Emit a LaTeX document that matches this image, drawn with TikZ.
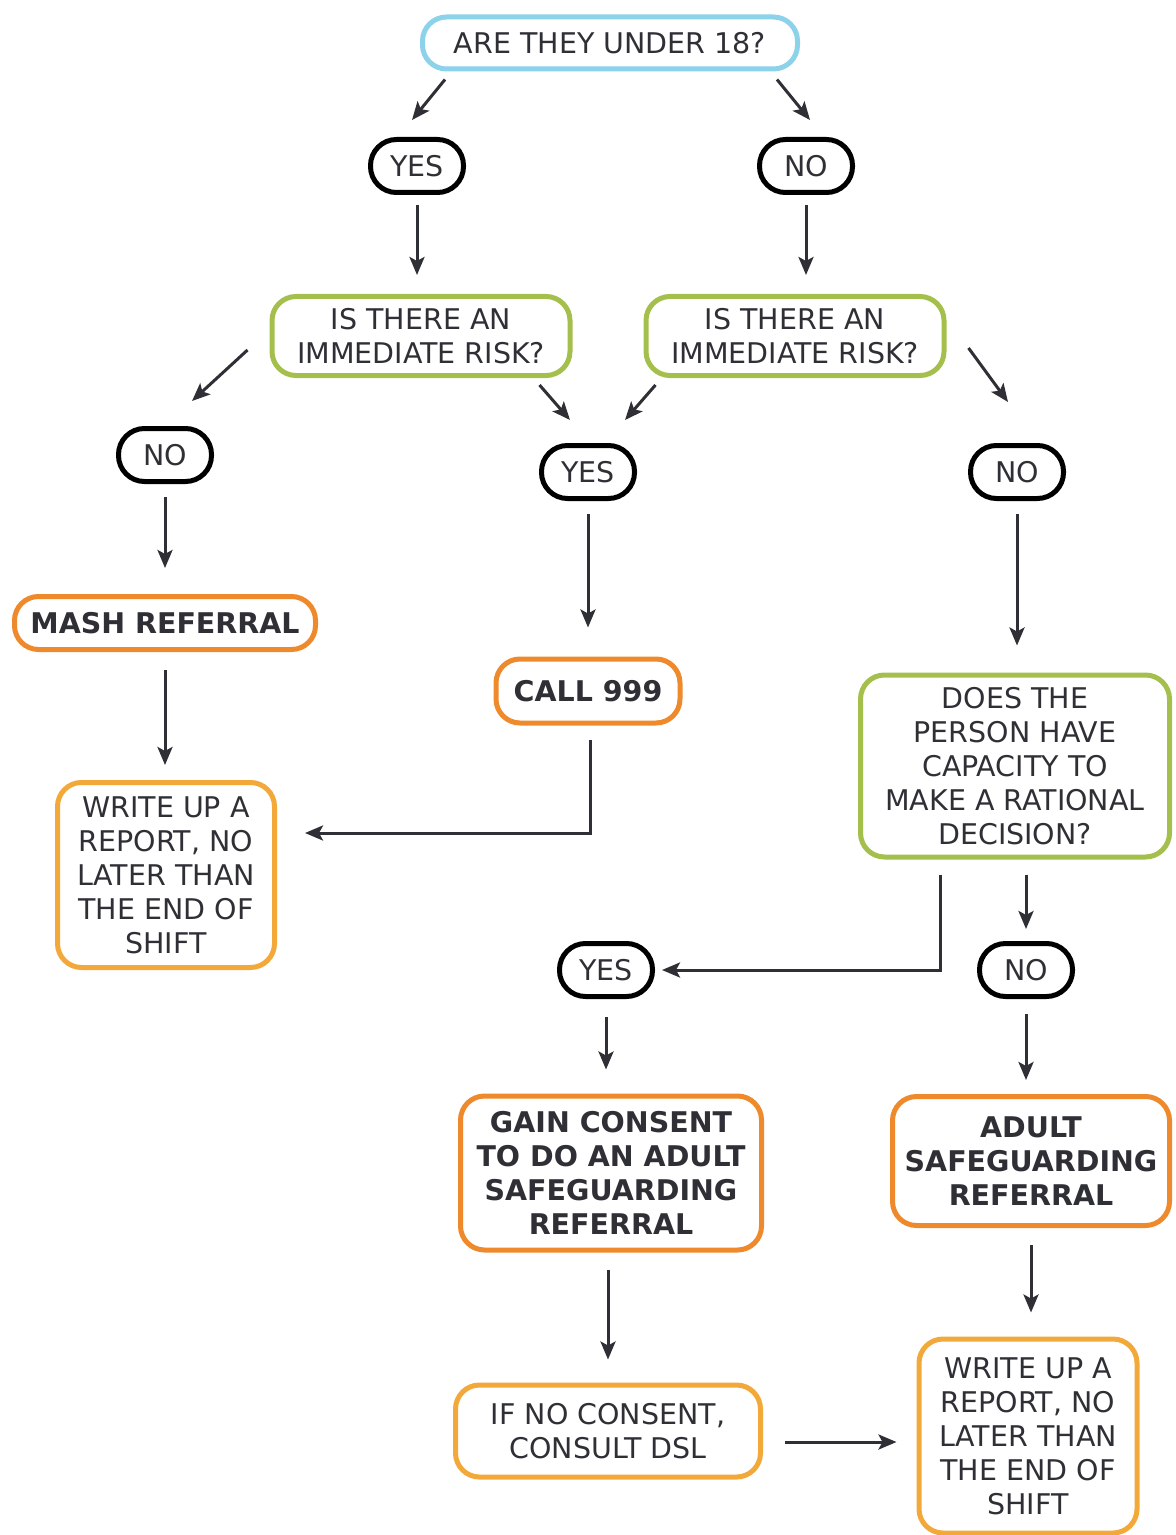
\documentclass[tikz,border=0pt]{standalone}
\usepackage{fontspec}
\setmainfont{DejaVu Sans}
\usepackage{xcolor}
\usepackage{tikz}
\usetikzlibrary{arrows.meta,calc}
\tikzset{>={Stealth[width=7.5pt,length=9pt,inset=2pt]}}
\definecolor{skyline}{HTML}{8DD2EB}
\definecolor{leaf}{HTML}{A4BF4C}
\definecolor{tangerine}{HTML}{EF8A2C}
\definecolor{amber}{HTML}{F3A93A}
\definecolor{ink}{HTML}{2F3036}

\begin{document}
\begin{tikzpicture}[->, x=0.5pt, y=-0.5pt, line width=1.5pt, color=ink]
	\tikzstyle{box}=[rounded corners=12pt, line width=2.5pt, fill=white, text=ink, align=center, inner sep=0pt, font=\fontsize{14.25}{17}\selectfont]
	\tikzstyle{start}=[box, draw=skyline]
	\tikzstyle{answer}=[box, draw=black, rounded corners=13pt, minimum width=46.5pt, minimum height=26.5pt]
	\tikzstyle{question}=[box, draw=leaf]
	\tikzstyle{action}=[box, draw=tangerine, font=\fontsize{14.25}{17}\selectfont\bfseries]
	\tikzstyle{report}=[box, draw=amber]

	\useasboundingbox (0,0) rectangle (1175,1535);

	% first question
	\node[start, minimum width=187.5pt, minimum height=26pt] (under) at (610,43) {ARE THEY UNDER 18?};
	\node[answer] (yes1) at (417,166) {YES};
	\node[answer] (no1) at (806,166) {NO};

	\path ($(under.south west)+(25,8)$) edge ($(yes1.north)+(-5,-17)$);
	\path ($(under.south east)+(-23,8)$) edge ($(no1.north)+(4,-17)$);

	% immediate risk
	\node[question, minimum width=149pt, minimum height=39.5pt] (risk1) at (421,336) {IS THERE AN\\IMMEDIATE RISK?};
	\node[question, minimum width=149pt, minimum height=39.5pt] (risk2) at (795,336) {IS THERE AN\\IMMEDIATE RISK?};

	\path (yes1.south) edge[shorten <=5pt, shorten >=9.5pt] (yes1.south |- risk1.north);
	\path (no1.south) edge[shorten <=5pt, shorten >=9.5pt] (no1.south |- risk2.north);

	\node[answer] (no2) at (165,455) {NO};
	\node[answer] (yes2) at (588,472) {YES};
	\node[answer] (no3) at (1017,472) {NO};

	\path ($(risk1.west)+(-22,14)$) edge ($(no2.north)+(27,-25)$);
	\path ($(risk1.south east)+(-33,7)$) edge ($(yes2.north)+(-18,-23)$);
	\path ($(risk2.south west)+(12,7)$) edge ($(yes2.north)+(37,-23)$);
	\path ($(risk2.east)+(22,12)$) edge ($(no3.north)+(-9,-41)$);

	% outcomes
	\node[action, minimum width=150.5pt, minimum height=26.5pt] (mash) at (165,623) {MASH REFERRAL};
	\node[action, minimum width=92pt, minimum height=32pt] (call) at (588,691) {CALL 999};
	\node[question, minimum width=154.5pt, minimum height=91pt] (does) at (1015,766) {DOES THE\\PERSON HAVE\\CAPACITY TO\\MAKE A RATIONAL\\DECISION?};
	\node[report, minimum width=108.5pt, minimum height=92.5pt] (report1) at (166,875) {WRITE UP A\\REPORT, NO\\LATER THAN\\THE END OF\\SHIFT};

	\path (no2.south) edge[shorten <=6.5pt, shorten >=13pt] (no2.south |- mash.north);
	\path (yes2.south) edge[shorten <=6.5pt, shorten >=14.5pt] (yes2.south |- call.north);
	\path (no3.south) edge[shorten <=6.5pt, shorten >=13.5pt] (no3.south |- does.north);
	\path (mash.south) edge[shorten <=9pt, shorten >=7.5pt] (mash.south |- report1.north);
	\draw[shorten <=7pt, shorten >=14pt] ($(call.south)+(2,0)$) |- ($(report1.east)+(0,-42)$);

	% capacity
	\node[answer] (yes3) at (606,970) {YES};
	\node[answer] (no4) at (1026,970) {NO};

	\draw[shorten <=7.5pt, shorten >=3.5pt] ($(does.south)+(-75,0)$) |- (yes3.east);
	\path (no4.north |- does.south) edge[shorten <=7.5pt, shorten >=6pt] (no4.north);

	\node[action, minimum width=150.5pt, minimum height=77pt] (gain) at (611,1173) {GAIN CONSENT\\TO DO AN ADULT\\SAFEGUARDING\\REFERRAL};
	\node[action, minimum width=138.5pt, minimum height=64.5pt] (adult) at (1031,1161) {ADULT\\SAFEGUARDING\\REFERRAL};

	\path (yes3.south) edge[shorten <=9pt, shorten >=12pt] (yes3.south |- gain.north);
	\path (no4.south) edge[shorten <=7.5pt, shorten >=7pt] (no4.south |- adult.north);

	\node[report, minimum width=152.5pt, minimum height=46pt] (ifno) at (608,1431) {IF NO CONSENT,\\CONSULT DSL};
	\node[report, minimum width=109pt, minimum height=97pt] (report2) at (1028,1436) {WRITE UP A\\REPORT, NO\\LATER THAN\\THE END OF\\SHIFT};

	\path (ifno.north |- gain.south) edge[shorten <=8.5pt, shorten >=11.5pt] (ifno.north);
	\path (adult.south) edge[shorten <=8.5pt, shorten >=12pt] (adult.south |- report2.north);
	\path ($(ifno.east)+(0,11)$) edge[shorten <=11pt, shorten >=10pt] ($(report2.west)+(0,6)$);

\end{tikzpicture}
\end{document}
